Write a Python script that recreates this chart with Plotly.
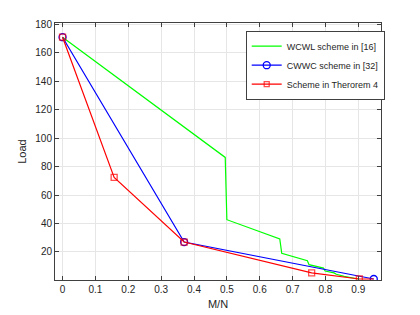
import plotly.graph_objects as go

# Data
wcwl_x = [0, 0.495, 0.5, 0.661, 0.667, 0.745, 0.75, 0.794, 0.799, 0.826, 0.833, 0.855, 0.857, 0.9]
wcwl_y = [171, 86.5, 42.7, 29.1, 19.0, 13.9, 11.1, 8.7, 6.6, 5.3, 4.3, 3.4, 2.8, 1.0]

cwwc_x = [0, 0.37, 0.947]
cwwc_y = [171, 27, 1.0]

thm_x = [0, 0.157, 0.37, 0.758, 0.903, 0.947]
thm_y = [171, 72.4, 27, 5.3, 1.0, 1.0]
thm_marker_size = [6, 6, 6, 6, 6, 0]

x_ticks = [0, 0.1, 0.2, 0.3, 0.4, 0.5, 0.6, 0.7, 0.8, 0.9]
y_ticks = [20, 40, 60, 80, 100, 120, 140, 160, 180]

font_family = "Liberation Sans, Arial, sans-serif"

fig = go.Figure()
fig.add_trace(go.Scatter(x=wcwl_x, y=wcwl_y, mode="lines", name="WCWL scheme in [16]",
                         line=dict(color="#00ff00", width=1.2)))
fig.add_trace(go.Scatter(x=cwwc_x, y=cwwc_y, mode="lines+markers", name="CWWC scheme in [32]",
                         line=dict(color="#0000ff", width=1.2),
                         marker=dict(symbol="circle-open", size=7, color="#0000ff", line=dict(width=1.3))))
fig.add_trace(go.Scatter(x=thm_x, y=thm_y, mode="lines+markers", name="Scheme in Therorem 4",
                         line=dict(color="#ff0000", width=1.2),
                         marker=dict(symbol="square-open", size=thm_marker_size, color="#ff0000",
                                     line=dict(width=1.3))))

axis_common = dict(
    showgrid=True, gridcolor="#e6e6e6", gridwidth=1,
    showline=True, linecolor="#404040", linewidth=1, mirror="ticks",
    ticks="inside", ticklen=4, tickcolor="#404040",
    tickfont=dict(family=font_family, size=10, color="#262626"),
    zeroline=False, automargin=False,
)

fig.update_layout(
    width=412, height=307,
    margin=dict(l=47, r=39, t=15, b=35),
    paper_bgcolor="white", plot_bgcolor="white",
    font=dict(family=font_family, color="#262626"),
    xaxis=dict(range=[-0.023, 0.969], tickvals=x_ticks, ticktext=[f"{v:g}" for v in x_ticks],
               title=dict(text="M/N", font=dict(size=11), standoff=6), **axis_common),
    yaxis=dict(range=[0.3, 181], tickvals=y_ticks,
               title=dict(text="Load", font=dict(size=11), standoff=6), **axis_common),
    legend=dict(x=0.585, y=0.97, xanchor="left", yanchor="top",
                bgcolor="white", bordercolor="#404040", borderwidth=1,
                font=dict(family=font_family, size=9, color="#262626"),
                tracegroupgap=0, itemwidth=30),
    showlegend=True,
)

fig.write_html("out.html")
